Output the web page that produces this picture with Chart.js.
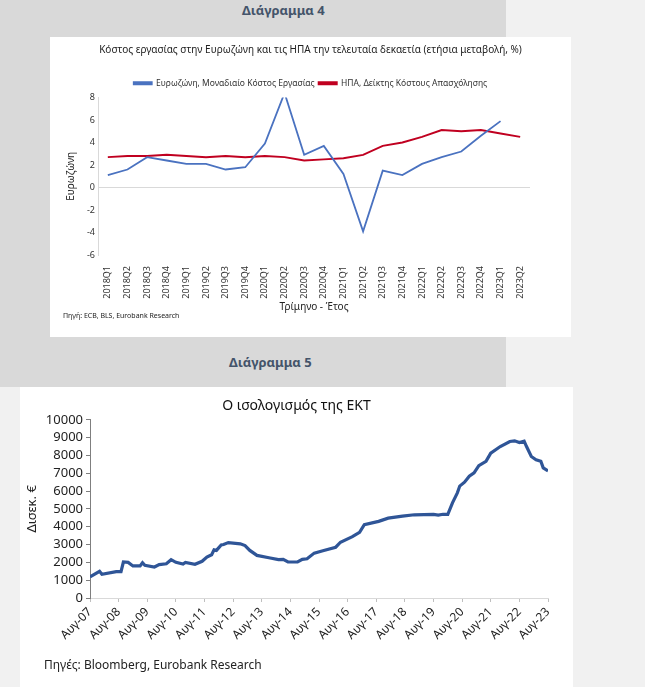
<!DOCTYPE html>
<html>
<head>
<meta charset="utf-8">
<script src="https://cdn.jsdelivr.net/npm/chart.js@4.4.0/dist/chart.umd.min.js"></script>
<style>
  body { margin: 0; background: #f1f1f1; font-family: "Noto Sans", sans-serif; }
  .grey { position: absolute; left: 0; top: 0; width: 506px; height: 387px; background: #d9d9d9; }
  .head { position: absolute; font-weight: bold; font-size: 13px; color: #44546a; }
  .panel { position: absolute; background: #fff; }
  .src { position: absolute; color: #222; }
</style>
</head>
<body>
<div class="grey"></div>
<div class="head" style="left:242px; top:1px;">Διάγραμμα 4</div>
<div class="panel" style="left:50px; top:37px; width:521px; height:300px;">
  <canvas id="chart1" width="521" height="300"></canvas>
  <div class="src" style="left:13px; top:274px; font-size:7px;">Πηγή: ECB, BLS, Eurobank Research</div>
</div>
<div class="head" style="left:229px; top:353px;">Διάγραμμα 5</div>
<div class="panel" style="left:20px; top:387px; width:553px; height:300px;">
  <canvas id="chart2" width="553" height="300"></canvas>
  <div class="src" style="left:24px; top:269px; font-size:12px;">Πηγές: Bloomberg, Eurobank Research</div>
</div>
<script>
// Diagram 4 data
const quarters = ["2018Q1","2018Q2","2018Q3","2018Q4","2019Q1","2019Q2","2019Q3","2019Q4",
  "2020Q1","2020Q2","2020Q3","2020Q4","2021Q1","2021Q2","2021Q3","2021Q4",
  "2022Q1","2022Q2","2022Q3","2022Q4","2023Q1","2023Q2"];
const euroULC = [1.1,1.6,2.7,2.4,2.1,2.1,1.6,1.8,3.9,8.4,2.9,3.7,1.2,-3.9,1.5,1.1,2.1,2.7,3.2,4.6,5.9,null];
const usaECI = [2.7,2.8,2.8,2.9,2.8,2.7,2.8,2.7,2.8,2.7,2.4,2.5,2.6,2.9,3.7,4.0,4.5,5.1,5.0,5.1,4.8,4.5];

// Diagram 5 data (months since Aug 2007, bn EUR)
const ecbMonths = [0,4,5,11,13,14,16,18,21,22,23,27,29,32,34,36,39,40,44,47,49,51,52,53,55,56,58,63,65,67,70,
  75,79,81,83,87,89,91,94,98,103,105,110,113,115,121,125,131,136,144,146,148,150,152,154,155,157,159,
  161,163,166,168,172,176,178,180,182,183,185,187,189,190,192];
const ecbValues = [1180,1500,1330,1480,1480,2020,2000,1800,1800,1980,1830,1740,1870,1920,2150,2000,1900,1990,1890,2060,2300,2430,2700,2670,2980,3000,3110,3040,2940,2670,2390,
  2260,2150,2170,2020,2020,2170,2200,2520,2670,2850,3130,3440,3690,4110,4300,4480,4590,4670,4690,4650,4700,4690,5350,5900,6280,6500,6830,
  7020,7430,7670,8130,8500,8780,8820,8720,8800,8500,7940,7760,7670,7300,7130];
const yearLabels = ["Αυγ-07","Αυγ-08","Αυγ-09","Αυγ-10","Αυγ-11","Αυγ-12","Αυγ-13","Αυγ-14","Αυγ-15",
  "Αυγ-16","Αυγ-17","Αυγ-18","Αυγ-19","Αυγ-20","Αυγ-21","Αυγ-22","Αυγ-23"];

Chart.defaults.font.family = '"Noto Sans", sans-serif';
Chart.defaults.color = "#333";
Chart.defaults.animation = false;

// empty axis used only to keep space on the right of the plot
function spacer(w) {
  return {
    position: "right", display: true,
    grid: { display: false }, border: { display: false },
    ticks: { display: false },
    afterFit: (s) => { s.width = w; }
  };
}

new Chart(document.getElementById("chart1"), {
  type: "line",
  data: {
    labels: quarters,
    datasets: [{
      label: "Ευρωζώνη, Μοναδιαίο Κόστος Εργασίας",
      data: euroULC,
      borderColor: "#4a72c0",
      backgroundColor: "#4a72c0",
      borderWidth: 1.8,
      pointRadius: 0,
      tension: 0
    }, {
      label: "ΗΠΑ, Δείκτης Κόστους Απασχόλησης",
      data: usaECI,
      borderColor: "#c00020",
      backgroundColor: "#c00020",
      borderWidth: 2,
      pointRadius: 0,
      tension: 0
    }]
  },
  options: {
    responsive: false,
    layout: { padding: { top: 0, right: 0, bottom: 22, left: 0 } },
    plugins: {
      title: {
        display: true,
        text: "Κόστος εργασίας στην Ευρωζώνη και τις ΗΠΑ την τελευταία δεκαετία (ετήσια μεταβολή, %)",
        font: { size: 10, weight: "normal" },
        color: "#222",
        padding: { top: 7, bottom: 19 }
      },
      legend: {
        labels: { boxWidth: 18, boxHeight: 2, padding: 4, font: { size: 8.5 }, color: "#333" }
      },
      tooltip: { enabled: false }
    },
    scales: {
      x: {
        offset: true,
        grid: { display: false },
        border: { display: false },
        ticks: { minRotation: 90, maxRotation: 90, font: { size: 9 }, color: "#333", autoSkip: false },
        title: { display: true, text: "Τρίμηνο - Έτος", font: { size: 10 }, color: "#222", padding: 2 },
        afterFit: (s) => { s.height = 60; }
      },
      y: {
        min: -6, max: 8,
        ticks: { stepSize: 2, font: { size: 9 }, color: "#333" },
        grid: { color: (c) => c.tick && c.tick.value === 0 ? "#d9d9d9" : "transparent", drawTicks: false },
        border: { color: "#d9d9d9" },
        title: { display: true, text: "Ευρωζώνη", font: { size: 10 }, color: "#222", padding: { top: 15, bottom: 2 } },
        afterFit: (s) => { s.width = 48; }
      },
      pad: spacer(41)
    }
  }
});

new Chart(document.getElementById("chart2"), {
  type: "line",
  data: {
    datasets: [{
      label: "ECB",
      data: ecbMonths.map((m, i) => ({ x: m, y: ecbValues[i] })),
      borderColor: "#2f5597",
      borderWidth: 3.2,
      pointRadius: 0,
      tension: 0
    }]
  },
  options: {
    responsive: false,
    layout: { padding: { top: 0, right: 0, bottom: 39, left: 0 } },
    plugins: {
      title: {
        display: true,
        text: "Ο ισολογισμός της ΕΚΤ",
        font: { size: 14, weight: "normal" },
        color: "#111",
        padding: { top: 11, bottom: 5 }
      },
      legend: { display: false },
      tooltip: { enabled: false }
    },
    scales: {
      x: {
        type: "linear",
        min: 0, max: 192,
        grid: { drawOnChartArea: false, color: "#bfbfbf", tickLength: 4 },
        border: { color: "#d9d9d9" },
        ticks: {
          stepSize: 12,
          minRotation: 45, maxRotation: 45,
          font: { size: 12 }, color: "#222",
          callback: (v) => yearLabels[v / 12]
        },
        afterFit: (s) => { s.height = 50; }
      },
      y: {
        min: 0, max: 10000,
        ticks: { stepSize: 1000, autoSkip: false, font: { size: 13 }, color: "#222", callback: (v) => String(v) },
        grid: { drawOnChartArea: false, color: "#7f7f7f", tickLength: 4 },
        border: { color: "#7f7f7f" },
        title: { display: true, text: "Δισεκ. €", font: { size: 13 }, color: "#222", padding: 4 },
        afterFit: (s) => { s.width = 70; }
      },
      pad: spacer(25)
    }
  }
});
</script>
</body>
</html>
